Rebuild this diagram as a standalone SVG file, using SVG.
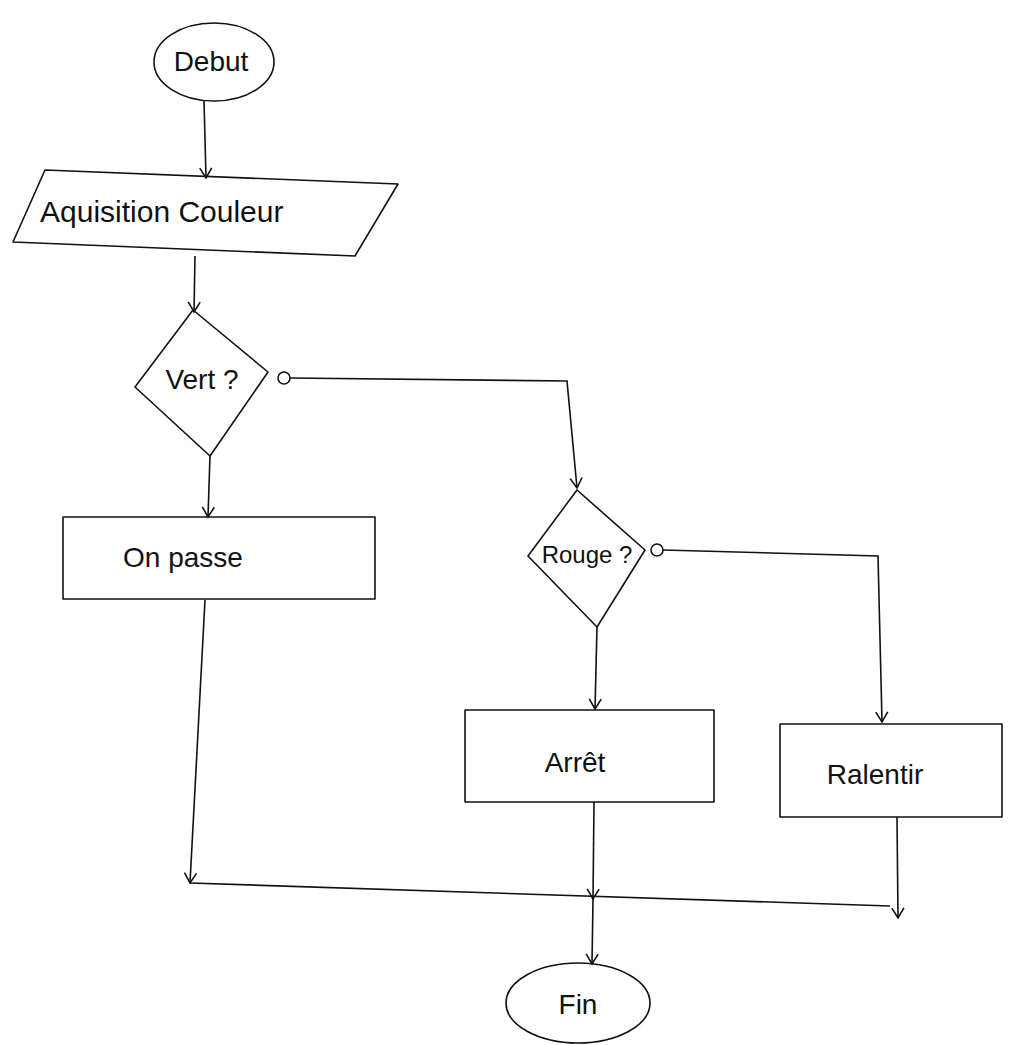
<svg xmlns="http://www.w3.org/2000/svg" width="1009" height="1045" viewBox="0 0 1009 1045">
<style>
.s{fill:none;stroke:#111;stroke-width:1.6;stroke-linecap:round;stroke-linejoin:round}
.t{font-family:"Liberation Sans",Arial,sans-serif;font-size:28px;fill:#111}
.c{stroke:#111;stroke-width:1.6;fill:none}
</style>
<defs>
<marker id="a" markerWidth="14" markerHeight="14" refX="12" refY="7" orient="auto" markerUnits="userSpaceOnUse">
<path d="M2,1 L12,7 L2,13" fill="none" stroke="#111" stroke-width="1.6"/>
</marker>
</defs>
<rect width="1009" height="1045" fill="#fff"/>
<g id="connectors">
<path class="c" d="M204,100 L206,178" marker-end="url(#a)"/>
<path class="c" d="M195,256 L194,312" marker-end="url(#a)"/>
<path class="c" d="M290,378 L567,381 L577,488" marker-end="url(#a)"/>
<path class="c" d="M210,456 L208,517" marker-end="url(#a)"/>
<path class="c" d="M663,550 L878,556 L882,722" marker-end="url(#a)"/>
<path class="c" d="M597,627 L595,709" marker-end="url(#a)"/>
<path class="c" d="M205,600 L190,883" marker-end="url(#a)"/>
<path class="c" d="M190,883 L890,906"/>
<path class="c" d="M594,802 L593,899" marker-end="url(#a)"/>
<path class="c" d="M593,899 L592,964" marker-end="url(#a)"/>
<path class="c" d="M897,817 L898,918" marker-end="url(#a)"/>
</g>
<g id="debut">
<ellipse class="s" cx="214" cy="62" rx="60" ry="39"/>
<text class="t" x="211" y="71" text-anchor="middle">Debut</text>
</g>
<g id="acquisition">
<polygon class="s" points="45,170 398,184 355,256 13,242"/>
<text class="t" x="40" y="222" style="font-size:30px">Aquisition Couleur</text>
</g>
<g id="vert">
<polygon class="s" points="193,310 268,372 210,456 135,387"/>
<circle class="s" cx="284" cy="378" r="6"/>
<text class="t" x="202" y="389" text-anchor="middle">Vert ?</text>
</g>
<g id="onpasse">
<rect class="s" x="63" y="517" width="312" height="82"/>
<text class="t" x="183" y="567" text-anchor="middle">On passe</text>
</g>
<g id="rouge">
<polygon class="s" points="577,490 645,550 597,627 528,556"/>
<circle class="s" cx="657" cy="550" r="6"/>
<text class="t" x="587" y="563" text-anchor="middle" style="font-size:24px">Rouge ?</text>
</g>
<g id="arret">
<rect class="s" x="465" y="710" width="249" height="92"/>
<text class="t" x="575" y="772" text-anchor="middle">Arrêt</text>
</g>
<g id="ralentir">
<rect class="s" x="780" y="724" width="222" height="93"/>
<text class="t" x="875" y="784" text-anchor="middle">Ralentir</text>
</g>
<g id="fin">
<ellipse class="s" cx="578" cy="1003" rx="72" ry="40"/>
<text class="t" x="578" y="1014" text-anchor="middle">Fin</text>
</g>
</svg>
